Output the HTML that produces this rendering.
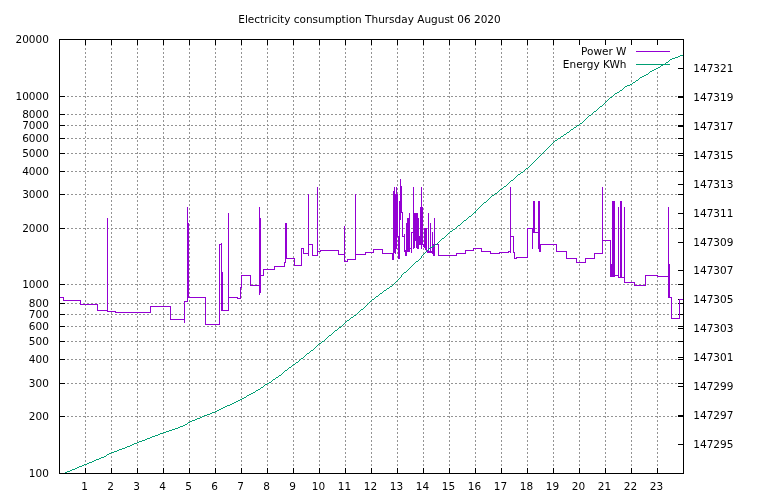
<!DOCTYPE html>
<html><head><meta charset="utf-8"><title>Electricity consumption</title>
<style>html,body{margin:0;padding:0;background:#fff;width:768px;height:500px;overflow:hidden}</style>
</head><body>
<svg width="768" height="500" viewBox="0 0 768 500" style="display:block;will-change:transform">
<rect width="768" height="500" fill="#fff"/>
<path d="M59 416.5H683 M59 383.5H683 M59 359.5H683 M59 341.5H683 M59 326.5H683 M59 314.5H683 M59 303.5H683 M59 284.5H683 M59 228.5H683 M59 194.5H683 M59 171.5H683 M59 153.5H683 M59 138.5H683 M59 125.5H683 M59 114.5H683 M59 96.5H683 M85.5 474V39 M111.5 474V39 M137.5 474V39 M163.5 474V39 M189.5 474V39 M215.5 474V39 M241.5 474V39 M267.5 474V39 M293.5 474V39 M319.5 474V39 M345.5 474V39 M371.5 474V39 M397.5 474V39 M423.5 474V39 M449.5 474V39 M475.5 474V39 M501.5 474V39 M527.5 474V39 M553.5 474V39 M579.5 474V71.0 M605.5 474V71.0 M631.5 474V71.0 M657.5 474V71.0" stroke="#949494" stroke-width="1" stroke-dasharray="2 2" fill="none"/>
<path d="M59 473.5h6M684 473.5h-6M59 416.5h6M684 416.5h-6M59 383.5h6M684 383.5h-6M59 359.5h6M684 359.5h-6M59 341.5h6M684 341.5h-6M59 326.5h6M684 326.5h-6M59 314.5h6M684 314.5h-6M59 303.5h6M684 303.5h-6M59 284.5h6M684 284.5h-6M59 228.5h6M684 228.5h-6M59 194.5h6M684 194.5h-6M59 171.5h6M684 171.5h-6M59 153.5h6M684 153.5h-6M59 138.5h6M684 138.5h-6M59 125.5h6M684 125.5h-6M59 114.5h6M684 114.5h-6M59 96.5h6M684 96.5h-6M59 39.5h6M684 39.5h-6M684 444.5h-6M684 415.5h-6M684 386.5h-6M684 357.5h-6M684 328.5h-6M684 299.5h-6M684 270.5h-6M684 242.5h-6M684 213.5h-6M684 184.5h-6M684 155.5h-6M684 126.5h-6M684 97.5h-6M684 68.5h-6M85.5 474v-6M85.5 39v6M111.5 474v-6M111.5 39v6M137.5 474v-6M137.5 39v6M163.5 474v-6M163.5 39v6M189.5 474v-6M189.5 39v6M215.5 474v-6M215.5 39v6M241.5 474v-6M241.5 39v6M267.5 474v-6M267.5 39v6M293.5 474v-6M293.5 39v6M319.5 474v-6M319.5 39v6M345.5 474v-6M345.5 39v6M371.5 474v-6M371.5 39v6M397.5 474v-6M397.5 39v6M423.5 474v-6M423.5 39v6M449.5 474v-6M449.5 39v6M475.5 474v-6M475.5 39v6M501.5 474v-6M501.5 39v6M527.5 474v-6M527.5 39v6M553.5 474v-6M553.5 39v6M579.5 474v-6M579.5 39v6M605.5 474v-6M605.5 39v6M631.5 474v-6M631.5 39v6M657.5 474v-6M657.5 39v6" stroke="#000" stroke-width="1" fill="none"/>
<defs><clipPath id="pc"><rect x="59.5" y="39.5" width="624" height="434"/></clipPath></defs>
<g clip-path="url(#pc)" fill="none" stroke-width="1">
<path d="M59.5 297.5H63.5V300.5H80.5V304.5H97.5V310.5H107.5V311.5H115.5V312.5H150.5V306.5H170.5V319.5H184.5V301.5H187.5V297.5H205.5V324.5H219.5V244.5H221.5V310.5H228.5V297.5H237.5V298.5H240.5V287.5H241.5V275.5H250.5V285.5H259.5V275.5H263.5V269.5H274.5V266.5H284.5V262.5H285.5V258.5H294.5V265.5H301.5V248.5H303.5V253.5H308.5V244.5H312.5V255.5H317.5V251.5H320.5V250.5H338.5V254.5H344.5V261.5H347.5V259.5H355.5V254.5H365.5V252.5H373.5V249.5H382.5V253.5H392.5M434.5 244.5H438.5V255.5H456.5V253.5H465.5V250.5H473.5V248.5H481.5V251.5H490.5V253.5H499.5V252.5H508.5V251.5H510.5V236.5H513.5V252.5H514.5V258.5H516.5V257.5H527.5V228.5H532.5V232.5H538.5V244.5H556.5V251.5H566.5V258.5H576.5V262.5H585.5V258.5H594.5V253.5H602.5V240.5H610.5V276.5H614.5V275.5H618.5V277.5H624.5V282.5H634.5V285.5H645.5V275.5H657.5V276.5H668.5V297.5H671.5V318.5H679.5V299.5H683M107.5 218V312M184.5 301V323M187.5 207V302M188.5 223V298M222.5 272V311M221.5 243V245M228.5 213V298M259.5 207V295M260.5 218V293M285.5 223V263M286.5 223V259M308.5 194V256M317.5 187V256M344.5 226V262M355.5 194V260M510.5 187V253M532.5 228V249M533.5 201V233M534.5 201V233M538.5 201V249M539.5 201V252M540.5 244V252M602.5 187V254M610.5 240V265M611.5 264V277M612.5 201V277M613.5 201V277M614.5 201V276M618.5 207V278M620.5 201V278M621.5 201V278M624.5 207V283M668.5 207V277M669.5 264V298M392.5 253V260M393.5 191V260M394.5 187V253M395.5 194V254M396.5 187V249M397.5 194V237M398.5 236V259M399.5 201V259M400.5 179V220M401.5 186V213M402.5 212V237M403.5 236V237M404.5 234V252M405.5 250V256M406.5 223V256M407.5 218V252M408.5 218V252M409.5 213V252M410.5 248V249M411.5 232V253M412.5 232V233M413.5 187V249M414.5 213V248M415.5 213V241M416.5 213V248M417.5 213V249M418.5 218V249M419.5 236V245M420.5 207V245M421.5 187V249M422.5 207V245M423.5 244V247M424.5 228V248M425.5 228V250M426.5 228V251M427.5 250V253M428.5 213V253M429.5 251V253M430.5 223V253M431.5 251V253M432.5 232V254M433.5 244V256M434.5 218V256" stroke="#9400d3" stroke-linejoin="miter" stroke-linecap="butt" shape-rendering="crispEdges"/>
<path d="M65 472h2v1h-2zM67 471h3v1h-3zM70 470h2v1h-2zM72 469h3v1h-3zM75 468h2v1h-2zM77 467h2v1h-2zM79 466h3v1h-3zM82 465h2v1h-2zM84 464h3v1h-3zM87 463h2v1h-2zM89 462h3v1h-3zM92 461h2v1h-2zM94 460h2v1h-2zM96 459h3v1h-3zM99 458h2v1h-2zM101 457h3v1h-3zM104 456h2v1h-2zM106 455h1v1h-1zM107 454h2v1h-2zM109 453h2v1h-2zM111 452h3v1h-3zM114 451h3v1h-3zM117 450h2v1h-2zM119 449h3v1h-3zM122 448h3v1h-3zM125 447h2v1h-2zM127 446h3v1h-3zM130 445h2v1h-2zM132 444h2v1h-2zM134 443h3v1h-3zM137 442h2v1h-2zM139 441h3v1h-3zM142 440h3v1h-3zM145 439h2v1h-2zM147 438h3v1h-3zM150 437h2v1h-2zM152 436h3v1h-3zM155 435h3v1h-3zM158 434h2v1h-2zM160 433h3v1h-3zM163 432h3v1h-3zM166 431h3v1h-3zM169 430h3v1h-3zM172 429h3v1h-3zM175 428h3v1h-3zM178 427h2v1h-2zM180 426h3v1h-3zM183 425h2v1h-2zM185 424h2v1h-2zM187 423h1v1h-1zM188 422h2v1h-2zM190 421h2v1h-2zM192 420h3v1h-3zM195 419h2v1h-2zM197 418h3v1h-3zM200 417h2v1h-2zM202 416h2v1h-2zM204 415h3v1h-3zM207 414h3v1h-3zM210 413h2v1h-2zM212 412h3v1h-3zM215 411h2v1h-2zM217 410h2v1h-2zM219 409h2v1h-2zM221 408h2v1h-2zM223 407h2v1h-2zM225 406h2v1h-2zM227 405h3v1h-3zM230 404h2v1h-2zM232 403h2v1h-2zM234 402h2v1h-2zM236 401h2v1h-2zM238 400h2v1h-2zM240 399h2v1h-2zM242 398h2v1h-2zM244 397h2v1h-2zM246 396h1v1h-1zM247 395h2v1h-2zM249 394h2v1h-2zM251 393h2v1h-2zM253 392h2v1h-2zM255 391h1v1h-1zM256 390h2v1h-2zM258 389h2v1h-2zM260 388h1v1h-1zM261 387h2v1h-2zM263 386h1v1h-1zM264 385h1v1h-1zM265 384h2v1h-2zM267 383h2v1h-2zM269 382h2v1h-2zM271 381h1v1h-1zM272 380h1v1h-1zM273 379h2v1h-2zM275 378h1v1h-1zM276 377h2v1h-2zM278 376h1v1h-1zM279 375h2v1h-2zM281 374h1v1h-1zM282 373h1v1h-1zM283 372h1v1h-1zM284 371h1v1h-1zM285 370h2v1h-2zM287 369h1v1h-1zM288 368h1v1h-1zM289 367h2v1h-2zM291 366h1v1h-1zM292 365h1v1h-1zM293 364h2v1h-2zM295 363h1v1h-1zM296 362h2v1h-2zM298 361h1v1h-1zM299 360h1v1h-1zM300 359h1v1h-1zM301 358h2v1h-2zM303 357h1v1h-1zM304 356h1v1h-1zM305 355h1v1h-1zM306 354h1v1h-1zM307 353h2v1h-2zM309 352h1v1h-1zM310 351h1v1h-1zM311 350h2v1h-2zM313 349h1v1h-1zM314 348h1v1h-1zM315 347h1v1h-1zM316 346h1v1h-1zM317 345h1v1h-1zM318 344h1v1h-1zM319 343h2v1h-2zM321 342h1v1h-1zM322 341h2v1h-2zM324 340h1v1h-1zM325 339h1v1h-1zM326 338h1v1h-1zM327 337h1v1h-1zM328 336h1v1h-1zM329 335h2v1h-2zM331 334h1v1h-1zM332 333h1v1h-1zM333 332h1v1h-1zM334 331h1v1h-1zM335 330h2v1h-2zM337 329h1v1h-1zM338 328h1v1h-1zM339 327h2v1h-2zM341 326h1v1h-1zM342 325h1v1h-1zM343 324h1v1h-1zM344 323h1v1h-1zM345 322h1v1h-1zM346 321h1v1h-1zM347 320h2v1h-2zM349 319h1v1h-1zM350 318h1v1h-1zM351 317h2v1h-2zM353 316h1v1h-1zM354 315h2v1h-2zM356 314h1v1h-1zM357 313h1v1h-1zM358 312h1v1h-1zM359 311h1v1h-1zM360 310h1v1h-1zM361 309h2v1h-2zM363 308h1v1h-1zM364 307h1v1h-1zM365 306h1v1h-1zM366 305h1v1h-1zM367 304h1v1h-1zM368 303h1v1h-1zM369 302h1v1h-1zM370 301h1v1h-1zM371 300h1v1h-1zM372 299h2v1h-2zM374 298h1v1h-1zM375 297h1v1h-1zM376 296h2v1h-2zM378 295h1v1h-1zM379 294h1v1h-1zM380 293h2v1h-2zM382 292h1v1h-1zM383 291h1v1h-1zM384 290h2v1h-2zM386 289h1v1h-1zM387 288h2v1h-2zM389 287h1v1h-1zM390 286h2v1h-2zM392 285h1v1h-1zM393 284h1v1h-1zM394 283h1v1h-1zM395 282h1v1h-1zM396 281h1v1h-1zM397 280h1v1h-1zM398 279h1v1h-1zM399 278h1v1h-1zM400 277h1v1h-1zM401 275h1v1h-1zM401 276h1v1h-1zM402 274h1v1h-1zM403 273h1v1h-1zM404 272h2v1h-2zM406 271h1v1h-1zM407 270h1v1h-1zM408 269h1v1h-1zM409 268h1v1h-1zM410 267h1v1h-1zM411 266h1v1h-1zM412 265h1v1h-1zM413 264h1v1h-1zM414 263h1v1h-1zM415 262h1v1h-1zM416 261h2v1h-2zM418 260h1v1h-1zM419 259h1v1h-1zM420 258h1v1h-1zM421 256h1v1h-1zM421 257h1v1h-1zM422 255h1v1h-1zM423 254h1v1h-1zM424 253h1v1h-1zM425 252h1v1h-1zM426 251h1v1h-1zM427 250h1v1h-1zM428 249h1v1h-1zM429 248h1v1h-1zM430 247h2v1h-2zM432 246h2v1h-2zM434 245h1v1h-1zM435 244h2v1h-2zM437 243h1v1h-1zM438 242h1v1h-1zM439 241h1v1h-1zM440 240h1v1h-1zM441 239h1v1h-1zM442 238h2v1h-2zM444 237h1v1h-1zM445 236h1v1h-1zM446 235h1v1h-1zM447 234h1v1h-1zM448 233h1v1h-1zM449 232h1v1h-1zM450 231h2v1h-2zM452 230h1v1h-1zM453 229h2v1h-2zM455 228h1v1h-1zM456 227h1v1h-1zM457 226h1v1h-1zM458 225h2v1h-2zM460 224h1v1h-1zM461 223h1v1h-1zM462 222h1v1h-1zM463 221h1v1h-1zM464 220h2v1h-2zM466 219h1v1h-1zM467 218h1v1h-1zM468 217h1v1h-1zM469 216h2v1h-2zM471 215h1v1h-1zM472 214h1v1h-1zM473 213h1v1h-1zM474 212h2v1h-2zM475 211h1v1h-1zM476 210h1v1h-1zM477 209h1v1h-1zM478 208h1v1h-1zM479 207h1v1h-1zM480 206h1v1h-1zM481 205h1v1h-1zM482 204h1v1h-1zM483 203h1v1h-1zM484 202h2v1h-2zM486 201h1v1h-1zM487 200h1v1h-1zM488 199h1v1h-1zM489 198h1v1h-1zM490 197h1v1h-1zM491 196h1v1h-1zM492 195h2v1h-2zM494 194h1v1h-1zM495 193h2v1h-2zM497 192h1v1h-1zM498 191h1v1h-1zM499 190h1v1h-1zM500 189h2v1h-2zM502 188h1v1h-1zM503 187h1v1h-1zM504 186h2v1h-2zM506 185h1v1h-1zM507 184h1v1h-1zM508 183h1v1h-1zM509 182h1v1h-1zM510 181h1v1h-1zM511 180h2v1h-2zM513 179h1v1h-1zM514 178h1v1h-1zM515 177h1v1h-1zM516 176h1v1h-1zM517 175h1v1h-1zM518 174h2v1h-2zM520 173h1v1h-1zM521 172h2v1h-2zM523 171h1v1h-1zM524 170h1v1h-1zM525 169h1v1h-1zM526 168h2v1h-2zM528 167h1v1h-1zM529 166h1v1h-1zM530 165h1v1h-1zM531 164h1v1h-1zM532 163h1v1h-1zM533 162h1v1h-1zM534 161h1v1h-1zM535 160h1v1h-1zM536 159h1v1h-1zM537 158h1v1h-1zM538 157h1v1h-1zM539 156h1v1h-1zM540 155h1v1h-1zM541 154h1v1h-1zM542 153h1v1h-1zM543 152h1v1h-1zM544 151h1v1h-1zM545 150h1v1h-1zM546 149h1v1h-1zM547 148h1v1h-1zM548 147h1v1h-1zM549 146h1v1h-1zM550 145h1v1h-1zM551 144h1v1h-1zM552 143h1v1h-1zM553 142h1v1h-1zM554 141h1v1h-1zM555 140h2v1h-2zM557 139h1v1h-1zM558 138h2v1h-2zM560 137h1v1h-1zM561 136h2v1h-2zM563 135h1v1h-1zM564 134h2v1h-2zM566 133h1v1h-1zM567 132h2v1h-2zM569 131h1v1h-1zM570 130h1v1h-1zM571 129h2v1h-2zM573 128h1v1h-1zM574 127h2v1h-2zM576 126h1v1h-1zM577 125h2v1h-2zM579 124h1v1h-1zM580 123h2v1h-2zM582 122h1v1h-1zM583 121h1v1h-1zM584 120h1v1h-1zM585 119h1v1h-1zM586 118h1v1h-1zM587 117h1v1h-1zM588 116h1v1h-1zM589 115h2v1h-2zM591 114h1v1h-1zM592 113h1v1h-1zM593 112h1v1h-1zM594 111h2v1h-2zM596 110h1v1h-1zM597 109h1v1h-1zM598 108h1v1h-1zM599 107h1v1h-1zM600 106h2v1h-2zM602 105h1v1h-1zM603 104h1v1h-1zM604 103h1v1h-1zM605 102h1v1h-1zM606 101h1v1h-1zM607 100h1v1h-1zM608 99h1v1h-1zM609 98h1v1h-1zM610 97h2v1h-2zM612 96h1v1h-1zM613 95h1v1h-1zM614 94h1v1h-1zM615 93h2v1h-2zM617 92h2v1h-2zM619 91h1v1h-1zM620 90h2v1h-2zM622 89h1v1h-1zM623 88h1v1h-1zM624 87h1v1h-1zM625 86h2v1h-2zM627 85h3v1h-3zM630 84h2v1h-2zM632 83h1v1h-1zM633 82h2v1h-2zM635 81h1v1h-1zM636 80h2v1h-2zM638 79h1v1h-1zM639 78h1v1h-1zM640 77h2v1h-2zM642 76h2v1h-2zM644 75h2v1h-2zM646 74h2v1h-2zM648 73h1v1h-1zM649 72h1v1h-1zM650 71h2v1h-2zM652 70h2v1h-2zM654 69h2v1h-2zM656 68h2v1h-2zM658 67h2v1h-2zM660 66h1v1h-1zM661 65h2v1h-2zM663 64h2v1h-2zM665 63h1v1h-1zM666 62h2v1h-2zM668 61h1v1h-1zM669 60h1v1h-1zM670 59h2v1h-2zM672 58h3v1h-3zM675 57h3v1h-3zM678 56h2v1h-2zM680 55h3v1h-3z" fill="#009e73" stroke="none" shape-rendering="crispEdges"/>
</g>
<path d="M636 51.5H670" stroke="#9400d3" stroke-width="1"/>
<path d="M636 64.5H670" stroke="#009e73" stroke-width="1"/>

<rect x="59.5" y="39.5" width="624" height="434" fill="none" stroke="#000" stroke-width="1"/>
<g style="font-family:'DejaVu Sans',sans-serif;font-size:10.5px" fill="#000"><text x="48.9" y="477.3" text-anchor="end">100</text><text x="48.9" y="420.3" text-anchor="end">200</text><text x="48.9" y="387.3" text-anchor="end">300</text><text x="48.9" y="363.3" text-anchor="end">400</text><text x="48.9" y="345.3" text-anchor="end">500</text><text x="48.9" y="330.3" text-anchor="end">600</text><text x="48.9" y="318.3" text-anchor="end">700</text><text x="48.9" y="307.3" text-anchor="end">800</text><text x="48.9" y="288.3" text-anchor="end">1000</text><text x="48.9" y="232.3" text-anchor="end">2000</text><text x="48.9" y="198.3" text-anchor="end">3000</text><text x="48.9" y="175.3" text-anchor="end">4000</text><text x="48.9" y="157.3" text-anchor="end">5000</text><text x="48.9" y="142.3" text-anchor="end">6000</text><text x="48.9" y="129.3" text-anchor="end">7000</text><text x="48.9" y="118.3" text-anchor="end">8000</text><text x="48.9" y="100.3" text-anchor="end">10000</text><text x="48.9" y="43.3" text-anchor="end">20000</text><text x="693.3" y="448.3">147295</text><text x="693.3" y="419.3">147297</text><text x="693.3" y="390.3">147299</text><text x="693.3" y="361.3">147301</text><text x="693.3" y="332.3">147303</text><text x="693.3" y="303.3">147305</text><text x="693.3" y="274.3">147307</text><text x="693.3" y="246.3">147309</text><text x="693.3" y="217.3">147311</text><text x="693.3" y="188.3">147313</text><text x="693.3" y="159.3">147315</text><text x="693.3" y="130.3">147317</text><text x="693.3" y="101.3">147319</text><text x="693.3" y="72.3">147321</text><text x="84.5" y="490" text-anchor="middle">1</text><text x="110.5" y="490" text-anchor="middle">2</text><text x="136.5" y="490" text-anchor="middle">3</text><text x="162.5" y="490" text-anchor="middle">4</text><text x="188.5" y="490" text-anchor="middle">5</text><text x="214.5" y="490" text-anchor="middle">6</text><text x="240.5" y="490" text-anchor="middle">7</text><text x="266.5" y="490" text-anchor="middle">8</text><text x="292.5" y="490" text-anchor="middle">9</text><text x="318.5" y="490" text-anchor="middle">10</text><text x="344.5" y="490" text-anchor="middle">11</text><text x="370.5" y="490" text-anchor="middle">12</text><text x="396.5" y="490" text-anchor="middle">13</text><text x="422.5" y="490" text-anchor="middle">14</text><text x="448.5" y="490" text-anchor="middle">15</text><text x="474.5" y="490" text-anchor="middle">16</text><text x="500.5" y="490" text-anchor="middle">17</text><text x="526.5" y="490" text-anchor="middle">18</text><text x="552.5" y="490" text-anchor="middle">19</text><text x="578.5" y="490" text-anchor="middle">20</text><text x="604.5" y="490" text-anchor="middle">21</text><text x="630.5" y="490" text-anchor="middle">22</text><text x="656.5" y="490" text-anchor="middle">23</text><text x="369.5" y="22.7" text-anchor="middle">Electricity consumption Thursday August 06 2020</text><text x="626.5" y="54.6" text-anchor="end">Power W</text><text x="626.5" y="67.9" text-anchor="end">Energy KWh</text></g>
</svg>
</body></html>
